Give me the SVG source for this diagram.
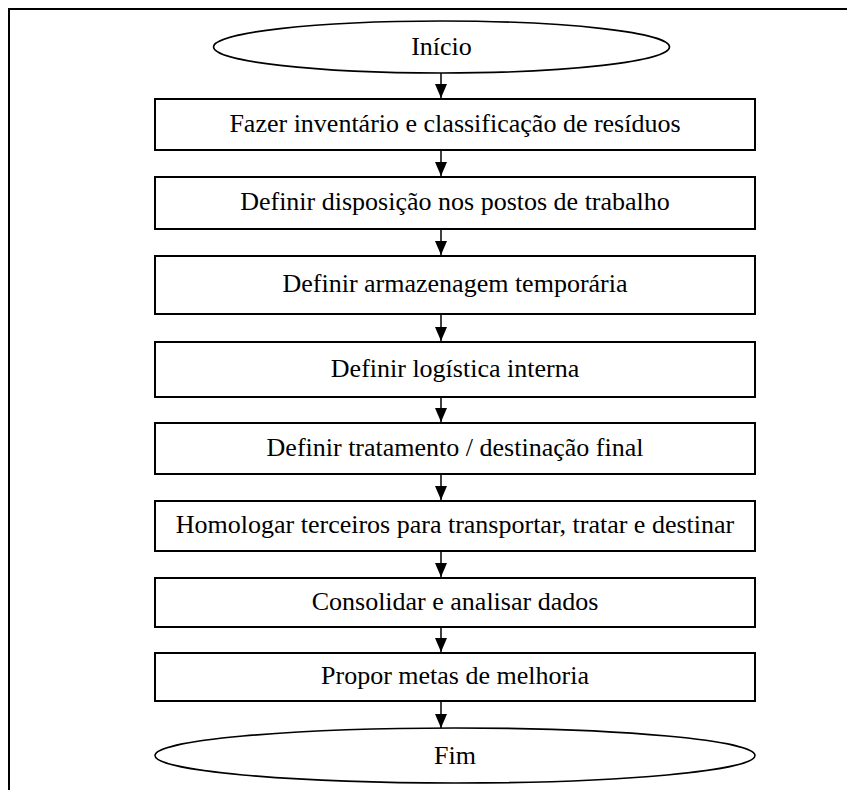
<svg xmlns="http://www.w3.org/2000/svg" width="847" height="790" viewBox="0 0 847 790">
<defs>
<style>
.frame{fill:none;stroke:#000;stroke-width:2}
.box{fill:#fff;stroke:#000;stroke-width:2}
.term{fill:#fff;stroke:#000;stroke-width:1.6}
.lbl{font-family:"Liberation Serif","Times New Roman",serif;font-size:26px;fill:#000;text-anchor:middle}
.conn{stroke:#000;stroke-width:1.5;fill:none}
</style>
<marker id="ah" viewBox="0 0 14 12" refX="14" refY="6" markerWidth="14" markerHeight="12" markerUnits="userSpaceOnUse" orient="auto">
<path d="M0,0 L14,6 L0,12 Z" fill="#000"/>
</marker>
</defs>
<rect width="847" height="790" fill="#fff"/>
<path class="frame" d="M9,790 V9 H847"/>
<g id="connectors">
<line class="conn" x1="441" y1="73" x2="441" y2="98" marker-end="url(#ah)"/>
<line class="conn" x1="441" y1="150" x2="441" y2="176" marker-end="url(#ah)"/>
<line class="conn" x1="441" y1="229" x2="441" y2="255" marker-end="url(#ah)"/>
<line class="conn" x1="441" y1="314" x2="441" y2="341" marker-end="url(#ah)"/>
<line class="conn" x1="441" y1="397" x2="441" y2="422" marker-end="url(#ah)"/>
<line class="conn" x1="441" y1="474" x2="441" y2="500" marker-end="url(#ah)"/>
<line class="conn" x1="441" y1="551" x2="441" y2="577" marker-end="url(#ah)"/>
<line class="conn" x1="441" y1="627" x2="441" y2="652" marker-end="url(#ah)"/>
<line class="conn" x1="441" y1="701" x2="441" y2="728" marker-end="url(#ah)"/>
</g>
<g id="inicio"><ellipse class="term" cx="441.5" cy="47" rx="228" ry="26"/><text class="lbl" x="441.5" y="55">Início</text></g>
<g id="n1"><rect class="box" x="155" y="99" width="600" height="51"/><text class="lbl" x="455" y="132">Fazer inventário e classificação de resíduos</text></g>
<g id="n2"><rect class="box" x="155" y="177" width="600" height="52"/><text class="lbl" x="455" y="210">Definir disposição nos postos de trabalho</text></g>
<g id="n3"><rect class="box" x="155" y="256" width="600" height="58"/><text class="lbl" x="455" y="292">Definir armazenagem temporária</text></g>
<g id="n4"><rect class="box" x="155" y="342" width="600" height="55"/><text class="lbl" x="455" y="377">Definir logística interna</text></g>
<g id="n5"><rect class="box" x="155" y="423" width="600" height="51"/><text class="lbl" x="455" y="456">Definir tratamento / destinação final</text></g>
<g id="n6"><rect class="box" x="155" y="501" width="600" height="50"/><text class="lbl" x="455" y="533">Homologar terceiros para transportar, tratar e destinar</text></g>
<g id="n7"><rect class="box" x="155" y="578" width="600" height="49"/><text class="lbl" x="455" y="610">Consolidar e analisar dados</text></g>
<g id="n8"><rect class="box" x="155" y="653" width="600" height="48"/><text class="lbl" x="455" y="684">Propor metas de melhoria</text></g>
<g id="fim"><ellipse class="term" cx="455" cy="755.5" rx="300" ry="27.5"/><text class="lbl" x="455" y="764">Fim</text></g>
</svg>
